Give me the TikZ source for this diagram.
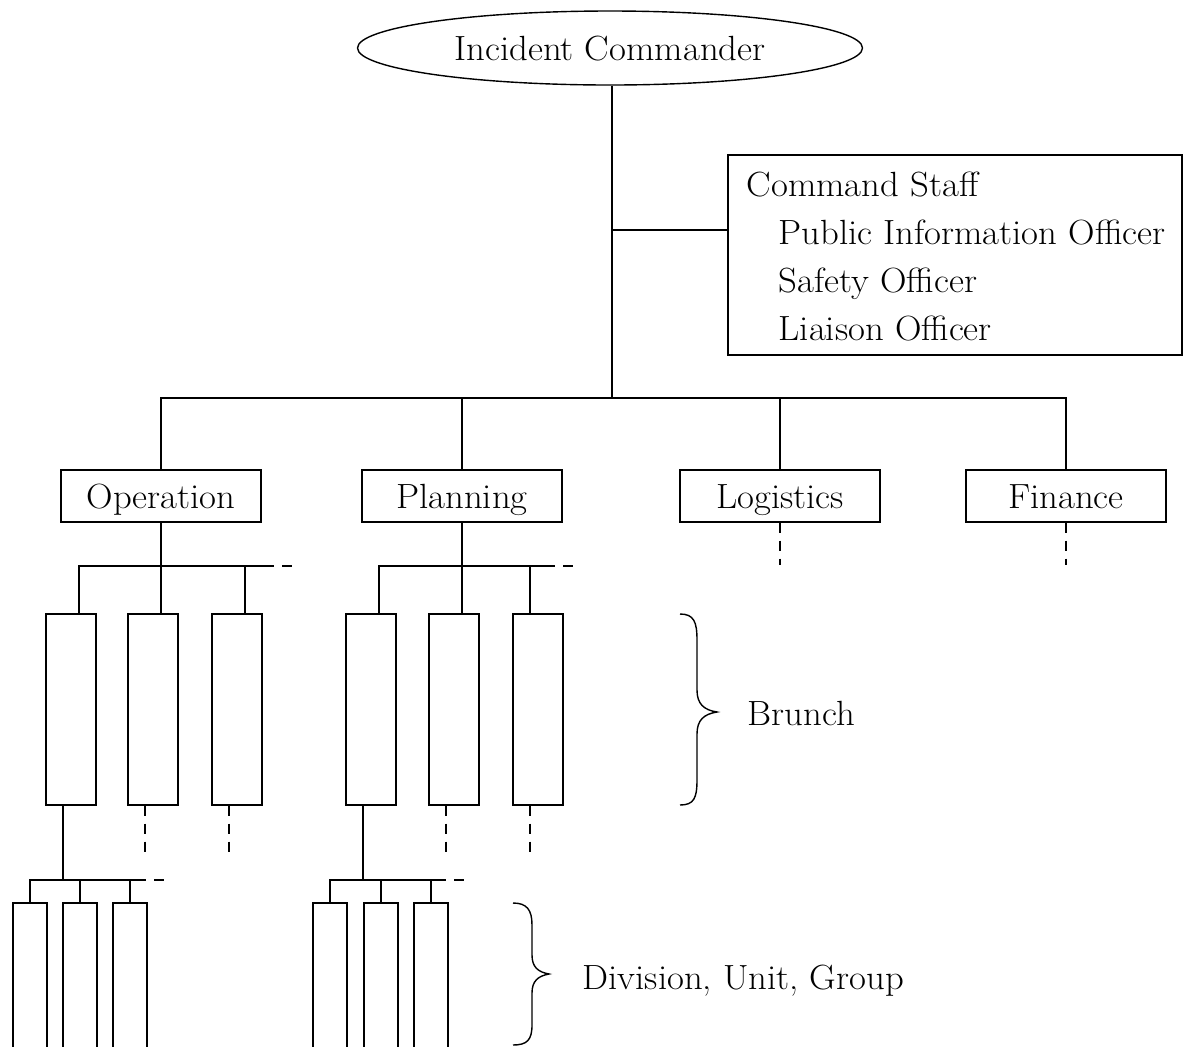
\documentclass[tikz,border=0pt]{standalone}
\usepackage{fontspec}
\setmainfont{Latin Modern Roman}[FakeStretch=1.05]
\usetikzlibrary{shapes.geometric}
\begin{document}
\begin{tikzpicture}[x=0.5pt,y=-0.5pt,line width=0.7pt,
  fnt/.style={font=\fontsize{17.5}{21}\selectfont},
  txt/.style={fnt, text height=12pt, text depth=0pt},
  lvl/.style={draw, rectangle, inner sep=0pt, minimum width=100pt, minimum height=26pt, txt},
  brbox/.style={draw, rectangle, inner sep=0pt, minimum width=25pt, minimum height=95.5pt},
  dvbox/.style={draw, rectangle, inner sep=0pt, minimum width=17pt, minimum height=78.5pt},
  stub/.style={dash pattern=on 5pt off 4pt}]
\useasboundingbox (0,0) rectangle (1184,1046);
\fill[white] (0,0) rectangle (1184,1046);
\clip (0,0) rectangle (1184,1046);

% top
\node[draw, ellipse, inner sep=0pt, minimum width=252.5pt, minimum height=37pt, txt] (ic) at (610,48) {Incident Commander};
\node[draw, rectangle, inner sep=0pt, minimum width=227pt, minimum height=100pt] (cs) at (955,255) {};
\node[anchor=base west, inner sep=0pt, fnt] (cs0) at (746,196) {Command Staff};
\node[anchor=base west, inner sep=0pt, fnt] (cs1) at (778,244) {Public Information Officer};
\node[anchor=base west, inner sep=0pt, fnt] (cs2) at (778,292) {Safety Officer};
\node[anchor=base west, inner sep=0pt, fnt] (cs3) at (778,340) {Liaison Officer};

% sections
\node[lvl] (op) at (161,496) {Operation};
\node[lvl] (pl) at (462,496) {Planning};
\node[lvl] (lo) at (780,496) {Logistics};
\node[lvl] (fi) at (1066,496) {Finance};

\coordinate (b0) at (612,398);
\coordinate (j0) at (612,230);
\draw (ic.south -| b0) -- (b0);
\draw (j0) -- (j0 -| cs.west);
\draw (op.north) |- (b0) -| (fi.north);
\draw (pl.north) -- (pl.north |- b0);
\draw (lo.north) -- (lo.north |- b0);
\coordinate (loe) at (780,565);
\coordinate (fie) at (1066,565);
\draw[stub] (lo.south) -- (loe);
\draw[stub] (fi.south) -- (fie);

% branch boxes
\node[brbox] (ob1) at (71,709.5) {};
\node[brbox] (ob2) at (153,709.5) {};
\node[brbox] (ob3) at (237,709.5) {};
\node[brbox] (pb1) at (371,709.5) {};
\node[brbox] (pb2) at (454,709.5) {};
\node[brbox] (pb3) at (538,709.5) {};

\coordinate (os) at (161,566);
\coordinate (ose) at (264,566);
\coordinate (ose2) at (297,566);
\draw (op.south) -- (os);
\draw ([xshift=4pt]ob1.north) |- (ose);
\draw[stub] (ose) -- (ose2);
\draw ([xshift=4pt]ob2.north) -- ([xshift=4pt]ob2.north |- os);
\draw ([xshift=4pt]ob3.north) -- ([xshift=4pt]ob3.north |- os);

\coordinate (ps) at (462,566);
\coordinate (pse) at (545,566);
\coordinate (pse2) at (578,566);
\draw (pl.south) -- (ps);
\draw ([xshift=4pt]pb1.north) |- (pse);
\draw[stub] (pse) -- (pse2);
\draw ([xshift=4pt]pb2.north) -- ([xshift=4pt]pb2.north |- ps);
\draw ([xshift=-4pt]pb3.north) -- ([xshift=-4pt]pb3.north |- ps);

% dashed stubs under branches
\coordinate (ob2d) at (149,857);
\coordinate (ob3d) at (233,857);
\coordinate (pb2d) at (450,857);
\coordinate (pb3d) at (534,857);
\draw[stub] ([xshift=-4pt]ob2.south) -- ([xshift=-4pt]ob2.south |- ob2d);
\draw[stub] ([xshift=-4pt]ob3.south) -- ([xshift=-4pt]ob3.south |- ob3d);
\draw[stub] ([xshift=-4pt]pb2.south) -- ([xshift=-4pt]pb2.south |- pb2d);
\draw[stub] ([xshift=-4pt]pb3.south) -- ([xshift=-4pt]pb3.south |- pb3d);

% division boxes
\node[dvbox] (ov1) at (30,981.5) {};
\node[dvbox] (ov2) at (80,981.5) {};
\node[dvbox] (ov3) at (130,981.5) {};
\node[dvbox] (pv1) at (330,981.5) {};
\node[dvbox] (pv2) at (381,981.5) {};
\node[dvbox] (pv3) at (431,981.5) {};

\coordinate (od) at (63,880);
\coordinate (ode) at (136,880);
\coordinate (ode2) at (165,880);
\draw ([xshift=-4pt]ob1.south) -- ([xshift=-4pt]ob1.south |- od);
\draw (ov1.north) |- (ode);
\draw[stub] (ode) -- (ode2);
\draw (ov2.north) -- (ov2.north |- od);
\draw (ov3.north) -- (ov3.north |- od);

\coordinate (pd) at (363,880);
\coordinate (pde) at (436,880);
\coordinate (pde2) at (465,880);
\draw ([xshift=-4pt]pb1.south) -- ([xshift=-4pt]pb1.south |- pd);
\draw (pv1.north) |- (pde);
\draw[stub] (pde) -- (pde2);
\draw (pv2.north) -- (pv2.north |- pd);
\draw (pv3.north) -- (pv3.north |- pd);

% braces and labels
\draw (680,614) .. controls (694,614) and (697,622) .. (697,640) -- (697,690)
  .. controls (697,704) and (704,710) .. (717,712)
  .. controls (704,714) and (697,720) .. (697,734) -- (697,780)
  .. controls (697,798) and (694,805) .. (680,805);
\node[anchor=west, inner sep=0pt, txt] (brl) at (747,713) {Brunch};

\draw (513,903) .. controls (527,903) and (532,910) .. (532,925) -- (532,955)
  .. controls (532,967) and (538,972) .. (549,974)
  .. controls (538,976) and (532,981) .. (532,993) -- (532,1025)
  .. controls (532,1040) and (527,1045) .. (513,1045);
\node[anchor=west, inner sep=0pt, txt] (dvl) at (582,977) {Division, Unit, Group};
\end{tikzpicture}
\end{document}
